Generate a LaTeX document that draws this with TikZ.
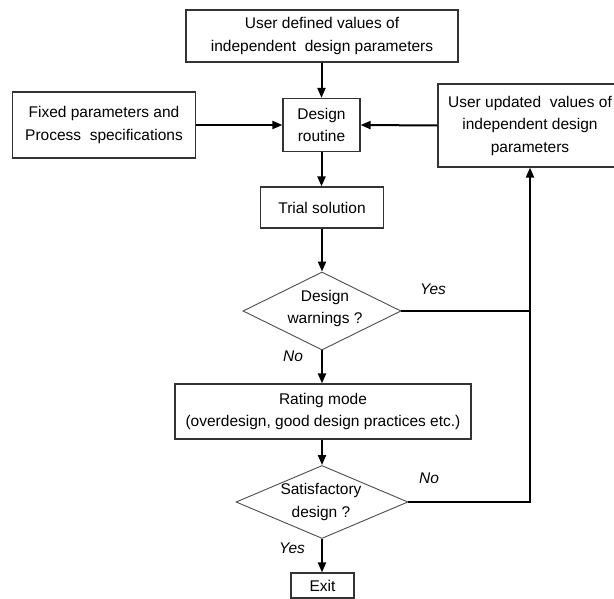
\documentclass[tikz,border=0pt]{standalone}
\usepackage{fontspec}
\setmainfont{Liberation Sans}
\usetikzlibrary{shapes.geometric,arrows.meta}
\begin{document}
\begin{tikzpicture}[x=1pt,y=-1pt,
  box/.style={draw=black!80,line width=1.2pt,rectangle,inner sep=0pt,align=center,
    font=\fontsize{15.5}{22.5}\selectfont},
  dia/.style={draw=black!70,line width=0.9pt,diamond,inner sep=0pt,aspect=2},
  txt/.style={align=center,inner sep=0pt,font=\fontsize{15.5}{22.5}\selectfont},
  lbl/.style={inner sep=0pt,font=\fontsize{15.5}{18}\selectfont\itshape},
  conn/.style={line width=2pt,black},
  arr/.style={conn,-{Triangle[length=10pt,width=8pt]}}]
\useasboundingbox (0,0) rectangle (614,599);
\clip (0,0) rectangle (614,599);
\node[box,minimum width=272,minimum height=52] (top) at (322,36) {User defined values of\\independent\ \ design parameters};
\node[box,minimum width=77,minimum height=53] (routine) at (321.5,125) {Design\\routine};
\node[box,minimum width=183,minimum height=66] (fixed) at (104,125) {Fixed parameters and\\Process\ \ specifications};
\node[box,minimum width=184,minimum height=83] (upd) at (530,125.5) {User updated\ \ values of\\independent design\\parameters};
\node[box,minimum width=123,minimum height=41] (trial) at (322,207.5) {Trial solution};
\node[dia,minimum width=158,minimum height=78] (d1) at (322,311) {};
\node[txt] (d1t) at (325,308.5) {Design\\warnings ?};
\node[box,minimum width=296,minimum height=55] (rating) at (323,411.5) {Rating mode\\(overdesign, good design practices etc.)};
\node[dia,minimum width=172,minimum height=73] (d2) at (322,502) {};
\node[txt] (d2t) at (321,502) {Satisfactory\\design ?};
\node[box,minimum width=63,minimum height=25] (exit) at (322.5,585.5) {Exit};
\coordinate (j1) at (530,311);
\coordinate (j2) at (530,502);
\node[lbl] (yes1) at (433,289) {Yes};
\node[lbl] (no1) at (293,356) {No};
\node[lbl] (no2) at (429,478) {No};
\node[lbl] (yes2) at (292,548) {Yes};
\draw[arr] (top.south -| routine.north) -- (routine.north);
\draw[arr] (fixed.east) -- (routine.west);
\draw[arr] (upd.west) -- (routine.east);
\draw[arr] (routine.south) -- (routine.south |- trial.north);
\draw[arr] (trial.south) -- (trial.south |- d1.north);
\draw[arr] (d1.south) -- (d1.south |- rating.north);
\draw[arr] (rating.south -| d2.north) -- (d2.north);
\draw[arr] (d2.south) -- (d2.south |- exit.north);
\draw[conn] (d1.east) -- (j1);
\draw[conn] (d2.east) -- (j2) -- (j1);
\draw[arr] (j1) -- (j1 |- upd.south);
\end{tikzpicture}
\end{document}
